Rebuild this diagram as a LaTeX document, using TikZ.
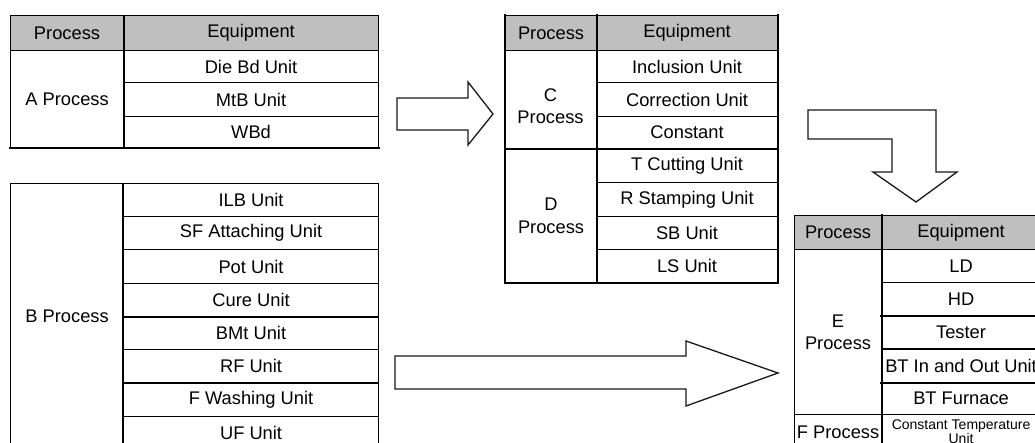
\documentclass[tikz,border=0pt]{standalone}
\usepackage{fontspec}
\setmainfont{Liberation Sans}
\tikzset{
  cell/.style={draw=black, line width=1.1pt, fill=white, inner sep=0pt, align=center,
    font=\fontsize{18.3}{22.5}\selectfont, text=black},
  head/.style={cell, fill=black!25},
  small/.style={cell, font=\fontsize{14}{12}\selectfont},
  thickline/.style={line width=2.6pt, line cap=rect},
  midline/.style={line width=1.8pt},
  blockarrow/.style={draw=black!90, line width=1.3pt, fill=white, line join=miter}
}
\newcommand\tabcell[7]{\node[#1, anchor=north west, minimum width={(#5-#3)*1pt}, minimum height={(#6-#4)*1pt}] (#2) at (#3,#4) {#7};}
\begin{document}
\begin{tikzpicture}[x=1pt,y=-1pt]
\useasboundingbox (0,0) rectangle (1035,443);
\clip (0,0) rectangle (1035,443);
% ---------- Table A ----------
\tabcell{head}{ahp}{10}{15}{123}{50}{Process}
\tabcell{head}{ahe}{123}{15}{378}{50}{Equipment}
\tabcell{cell}{ap}{10}{50}{123}{147}{A Process}
\tabcell{cell}{a1}{123}{50}{378}{82}{Die Bd Unit}
\tabcell{cell}{a2}{123}{82}{378}{116}{MtB Unit}
\tabcell{cell}{a3}{123}{116}{378}{147}{WBd}
\draw[thickline] (ap.south west) -- (a3.south east);
\draw[midline] (ahp.north east) -- (ap.south east);
% ---------- Table B ----------
\tabcell{cell}{bp}{10}{183}{123}{449}{B Process}
\tabcell{cell}{b1}{123}{183}{378}{216}{ILB Unit}
\tabcell{cell}{b2}{123}{216}{378}{249}{SF Attaching Unit}
\tabcell{cell}{b3}{123}{249}{378}{283}{Pot Unit}
\tabcell{cell}{b4}{123}{283}{378}{316}{Cure Unit}
\tabcell{cell}{b5}{123}{316}{378}{349}{BMt Unit}
\tabcell{cell}{b6}{123}{349}{378}{382}{RF Unit}
\tabcell{cell}{b7}{123}{382}{378}{416}{F Washing Unit}
\tabcell{cell}{b8}{123}{416}{378}{449}{UF Unit}
\draw[midline] (b4.south west) -- (b4.south east);
\draw[midline] (b6.south west) -- (b6.south east);
\draw[midline] (b1.north west) -- (b8.south west);
% ---------- Table C/D ----------
\tabcell{head}{chp}{505}{15}{596}{50}{Process}
\tabcell{head}{che}{596}{15}{777}{50}{Equipment}
\tabcell{cell}{cp}{505}{50}{596}{148}{}
\node[font=\fontsize{18.3}{22.5}\selectfont, align=center, text=black] (cpt) at (550.5,106) {C\\Process};
\tabcell{cell}{c1}{596}{50}{777}{82}{Inclusion Unit}
\tabcell{cell}{c2}{596}{82}{777}{116}{Correction Unit}
\tabcell{cell}{c3}{596}{116}{777}{148}{Constant}
\tabcell{cell}{dp}{505}{148}{596}{282}{D\\Process}
\tabcell{cell}{d1}{596}{148}{777}{182}{T Cutting Unit}
\tabcell{cell}{d2}{596}{182}{777}{216}{R Stamping Unit}
\tabcell{cell}{d3}{596}{216}{777}{249}{SB Unit}
\tabcell{cell}{d4}{596}{249}{777}{282}{LS Unit}
\draw[thickline] (chp.north west) -- (dp.south west);
\draw[thickline] (chp.north east) -- (dp.south east);
\draw[thickline] (che.north east) -- (d4.south east);
\draw[thickline] (cp.south west) -- (c3.south east);
\draw[midline] (dp.south west) -- (d4.south east);
% ---------- Table E/F ----------
\tabcell{head}{ehp}{794}{215}{881}{249}{Process}
\tabcell{head}{ehe}{881}{215}{1040}{249}{Equipment}
\tabcell{cell}{ep}{794}{249}{881}{414}{E\\Process}
\tabcell{cell}{e1}{881}{249}{1040}{282}{LD}
\tabcell{cell}{e2}{881}{282}{1040}{315}{HD}
\tabcell{cell}{e3}{881}{315}{1040}{348}{Tester}
\tabcell{cell}{e4}{881}{348}{1040}{382}{BT In and Out Unit}
\tabcell{cell}{e5}{881}{382}{1040}{414}{BT Furnace}
\tabcell{cell}{fp}{794}{414}{881}{449}{F Process}
\tabcell{small}{f1}{881}{414}{1040}{449}{Constant Temperature\\Unit}
\draw[thickline] (ehp.north east) -- (fp.south east);
\draw[thickline] (e2.south west) -- (e2.south east);
\draw[midline] (e3.south west) -- (e3.south east);
\draw[thickline] (e4.south west) -- (e4.south east);
% ---------- Block arrows ----------
\draw[blockarrow] (397,98) -- (468,98) -- (468,82) -- (493,114) -- (468,145) -- (468,130) -- (397,130) -- cycle;
\draw[blockarrow] (808,110) -- (936,110) -- (936,172) -- (957,172) -- (916,202) -- (873,172) -- (892,172) -- (892,139) -- (808,139) -- cycle;
\draw[blockarrow] (395,356) -- (686,356) -- (686,341) -- (778,373) -- (686,406) -- (686,389) -- (395,389) -- cycle;
\end{tikzpicture}
\end{document}
